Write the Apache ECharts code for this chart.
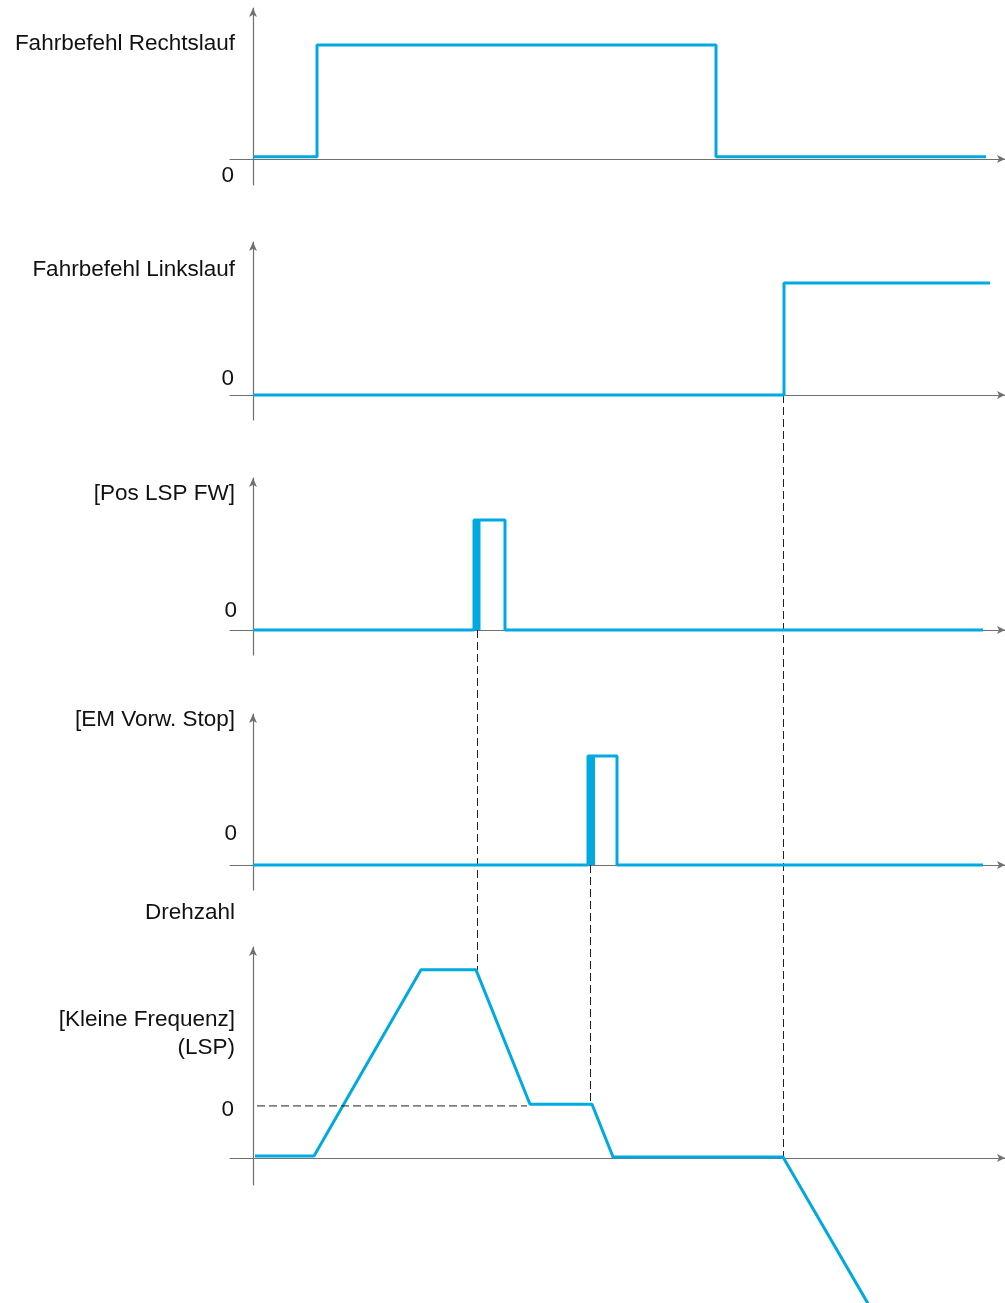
<!DOCTYPE html>
<html>
<head>
<meta charset="utf-8">
<script src="https://cdn.jsdelivr.net/npm/echarts@6/dist/echarts.min.js"></script>
<style>
  html, body { margin: 0; padding: 0; background: #fff; }
  #main { width: 1005px; height: 1303px; }
</style>
</head>
<body>
<div id="main"></div>
<script>
// time runs along x (0 = vertical axis), levels on y (1 = logic high)
const fwdCmd = [[0, 0.02], [64, 0.02], [64, 1], [463, 1], [463, 0.02], [733, 0.02]]
const revCmd = [[0, 0], [531, 0], [531, 1], [737, 1]]
const posLspFw = [[0, 0], [221, 0], [221, 1], [252, 1], [252, 0], [730, 0]]
const posLspFwEdge = [[224, 0], [224, 1]]
const emStop = [[0, 0], [335, 0], [335, 1], [364, 1], [364, 0], [730, 0]]
const emStopEdge = [[338, 0], [338, 1]]
const speed = [[2, 0.018], [61, 0.018], [168, 1.68], [223, 1.68], [277, 0.48], [339, 0.48], [360, 0.01], [530, 0.01], [615, -1.3]]
const lspLevel = [[4, 0.465], [274, 0.465]]

const titles = ['Fahrbefehl Rechtslauf', 'Fahrbefehl Linkslauf', '[Pos LSP FW]', '[EM Vorw. Stop]', 'Drehzahl', '[Kleine Frequenz]', '(LSP)']
const zeroLabel = '0'

// dashed guides: time, [panel, level] -> [panel, level]
const guides = [
  { t: 224, from: [2, 0], to: [4, 1.68] },
  { t: 337, from: [3, 0], to: [4, 0.48] },
  { t: 530, from: [1, 0], to: [4, 0.01] },
]

const panels = [
  { top: 8, height: 177, min: -0.228, max: 1.325 },
  { top: 242, height: 178, min: -0.223, max: 1.366 },
  { top: 478, height: 177, min: -0.227, max: 1.382 },
  { top: 714, height: 176, min: -0.229, max: 1.385 },
  { top: 947, height: 238, min: -0.241, max: 1.884 },
]

const blue = '#00a9e0'
const axisColor = '#707070'

let grid = []
let xAxis = []
let yAxis = []
panels.forEach((p, i) => {
  grid.push({ left: 230, right: 0, top: p.top, height: p.height })
  xAxis.push({
    type: 'value', gridIndex: i, min: -23, max: 752,
    axisLine: { onZero: true, symbol: ['none', 'arrow'], symbolSize: [6, 8], lineStyle: { color: axisColor, width: 1.2 } },
    axisTick: { show: false }, axisLabel: { show: false }, splitLine: { show: false },
  })
  yAxis.push({
    type: 'value', gridIndex: i, min: p.min, max: p.max,
    axisLine: { show: true, onZero: true, symbol: ['none', 'arrow'], symbolSize: [6, 9], lineStyle: { color: axisColor, width: 1.2 } },
    axisTick: { show: false }, axisLabel: { show: false }, splitLine: { show: false },
  })
})

function sig(data, idx, width, extra) {
  return Object.assign({
    type: 'line', data: data, xAxisIndex: idx, yAxisIndex: idx,
    showSymbol: false, symbol: 'none', silent: true,
    lineStyle: { color: blue, width: width || 3 },
  }, extra || {})
}

const series = [
  sig(fwdCmd, 0),
  sig(revCmd, 1),
  sig(posLspFw, 2),
  sig(posLspFwEdge, 2, 7),
  sig(emStop, 3),
  sig(emStopEdge, 3, 8),
  sig(speed, 4, 3, { clip: false }),
  sig(lspLevel, 4, 1, { lineStyle: { color: '#222', width: 1, type: [8, 4] } }),
]

const option = {
  animation: false,
  backgroundColor: '#fff',
  grid: grid,
  xAxis: xAxis,
  yAxis: yAxis,
  series: series,
}

const chart = echarts.init(document.getElementById('main'))
chart.setOption(option)

const font = '22.5px "Liberation Sans", Arial, sans-serif'
function txt(s, x, y) {
  return {
    type: 'text', x: x, y: y, silent: true,
    style: { text: s, font: font, fill: '#111', textAlign: 'right', textVerticalAlign: 'middle' },
  }
}

let graphics = [
  txt(titles[0], 235, 44),
  txt(titles[1], 235, 270),
  txt(titles[2], 235, 494),
  txt(titles[3], 235, 720),
  txt(titles[4], 235, 913),
  txt(titles[5], 235, 1020),
  txt(titles[6], 235, 1048),
  txt(zeroLabel, 234, 176),
  txt(zeroLabel, 234, 379),
  txt(zeroLabel, 237, 611),
  txt(zeroLabel, 237, 834),
  txt(zeroLabel, 234, 1110),
]

guides.forEach(g => {
  const a = chart.convertToPixel({ gridIndex: g.from[0] }, [g.t, g.from[1]])
  const b = chart.convertToPixel({ gridIndex: g.to[0] }, [g.t, g.to[1]])
  const x = Math.round(a[0]) + 0.5
  graphics.push({
    type: 'line', silent: true, z: 1,
    shape: { x1: x, y1: a[1], x2: x, y2: b[1] },
    style: { stroke: '#222', lineWidth: 1, lineDash: [8, 4] },
  })
})

chart.setOption({ graphic: graphics })
</script>
</body>
</html>
